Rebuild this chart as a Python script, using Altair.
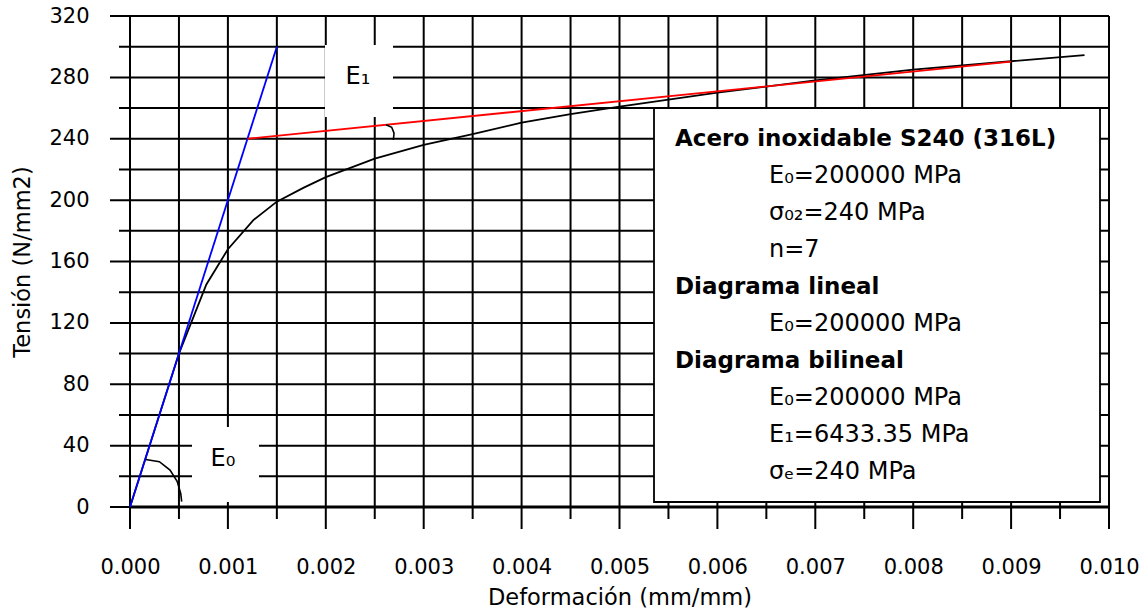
import altair as alt
import pandas as pd

# --- Stress-strain data: stainless steel S240 (316L) ---
# Non-linear (Ramberg-Osgood type) curve
strain_curve = [0.0, 0.00025, 0.0005, 0.00078, 0.001, 0.00126, 0.0015, 0.00177,
                0.002, 0.0025, 0.003, 0.0035, 0.004, 0.0045, 0.005, 0.006,
                0.007, 0.008, 0.009, 0.00975]
stress_curve = [0, 50, 100, 145, 168, 187, 199, 208, 215, 227, 236, 243,
                250.5, 256, 261, 270, 278, 285, 290.5, 294.5]

# Linear diagram (E0)
strain_linear = [0.0, 0.0015]
stress_linear = [0, 300]

# Bilinear diagram, hardening branch (E1)
strain_bilinear = [0.0012, 0.009]
stress_bilinear = [240, 290.2]

# Small angle arcs marking E0 and E1
arc0_strain = [0.00016, 0.0003, 0.000409, 0.000483, 0.000518, 0.000528]
arc0_stress = [31.0, 29.5, 24.1, 16.5, 8.9, 3.5]
arc1_strain = [0.002615, 0.002673, 0.002697, 0.00269]
arc1_stress = [249.1, 247.5, 243.6, 239.2]

# Axis ticks (labelled) and intermediate grid lines
x_major = [0.000, 0.001, 0.002, 0.003, 0.004, 0.005, 0.006, 0.007, 0.008, 0.009, 0.010]
x_minor = [0.0005, 0.0015, 0.0025, 0.0035, 0.0045, 0.0055, 0.0065, 0.0075, 0.0085, 0.0095]
y_major = [0, 40, 80, 120, 160, 200, 240, 280, 320]
y_minor = [20, 60, 100, 140, 180, 220, 260, 300]

legend_sections = [
    ("Acero inoxidable S240 (316L)", ["E₀=200000 MPa", "σ₀₂=240 MPa", "n=7"]),
    ("Diagrama lineal", ["E₀=200000 MPa"]),
    ("Diagrama bilineal", ["E₀=200000 MPa", "E₁=6433.35 MPa", "σₑ=240 MPa"]),
]

W, H = 979, 491
FONT = "DejaVu Sans"

xs = alt.Scale(domain=[0, 0.010], nice=False, zero=False)
ys = alt.Scale(domain=[0, 320], nice=False, zero=False)

xaxis = alt.Axis(values=x_major, format=".3f", title="Deformación (mm/mm)",
                 ticks=False, tickSize=0, domain=False, grid=False,
                 labelFont=FONT, labelFontSize=21, labelColor="black",
                 labelPadding=49, labelFlush=False, labelOverlap=False,
                 titleFont=FONT, titleFontSize=22.5, titleFontWeight="normal",
                 titleColor="black", titlePadding=9.5)
yaxis = alt.Axis(values=y_major, format="d", title="Tensión (N/mm2)",
                 ticks=False, tickSize=0, domain=False, grid=False,
                 labelFont=FONT, labelFontSize=21, labelColor="black",
                 labelPadding=41, labelFlush=False, labelOverlap=False,
                 titleFont=FONT, titleFontSize=22.5, titleFontWeight="normal",
                 titleColor="black", titlePadding=14)

X = alt.X("x:Q", scale=xs, axis=xaxis)
Y = alt.Y("y:Q", scale=ys, axis=yaxis)

GRID_W = 2.0

# Grid: vertical lines extend below the frame as tick marks
v_major = alt.Chart(pd.DataFrame({"x": x_major})).mark_rule(
    color="black", strokeWidth=GRID_W).encode(x=X, y=alt.value(0), y2=alt.value(H + 22))
v_minor = alt.Chart(pd.DataFrame({"x": x_minor})).mark_rule(
    color="black", strokeWidth=GRID_W).encode(x=X, y=alt.value(0), y2=alt.value(H + 12))
# Horizontal lines extend left of the frame as tick marks
h_major = alt.Chart(pd.DataFrame({"y": y_major})).mark_rule(
    color="black", strokeWidth=GRID_W).encode(y=Y, x=alt.value(-20), x2=alt.value(W))
h_minor = alt.Chart(pd.DataFrame({"y": y_minor})).mark_rule(
    color="black", strokeWidth=GRID_W).encode(y=Y, x=alt.value(-11), x2=alt.value(W))
# Heavier base line along zero stress
base_line = alt.Chart(pd.DataFrame({"y": [0]})).mark_rule(
    color="black", strokeWidth=3).encode(y=Y, x=alt.value(0), x2=alt.value(W))

one = alt.Data(values=[{}])

# White label boxes over the grid
box_e1 = alt.Chart(one).mark_rect(fill="white").encode(
    x=alt.value(195), x2=alt.value(263), y=alt.value(29), y2=alt.value(101))
box_e0 = alt.Chart(one).mark_rect(fill="white").encode(
    x=alt.value(62), x2=alt.value(129), y=alt.value(411), y2=alt.value(486))
legend_box = alt.Chart(one).mark_rect(fill="white", stroke="black", strokeWidth=1.8).encode(
    x=alt.value(524), x2=alt.value(970), y=alt.value(92), y2=alt.value(486))


def line_layer(xv, yv, color, width=1.8):
    df = pd.DataFrame({"x": xv, "y": yv, "i": list(range(len(xv)))})
    return alt.Chart(df).mark_line(color=color, strokeWidth=width).encode(
        x=X, y=Y, order="i:Q")


curve = line_layer(strain_curve, stress_curve, "black")
linear = line_layer(strain_linear, stress_linear, "#0000ff")
bilinear = line_layer(strain_bilinear, stress_bilinear, "#ff0000")
arc0 = line_layer(arc0_strain, arc0_stress, "black", 1.6)
arc1 = line_layer(arc1_strain, arc1_stress, "black", 1.6)

lbl_e1 = alt.Chart(one).mark_text(text="E₁", font=FONT, fontSize=24, color="black",
                                  align="center", baseline="alphabetic").encode(
    x=alt.value(228), y=alt.value(68))
lbl_e0 = alt.Chart(one).mark_text(text="E₀", font=FONT, fontSize=24, color="black",
                                  align="center", baseline="alphabetic").encode(
    x=alt.value(93), y=alt.value(450))

# Legend text, one layer per line
legend_layers = []
row = 0
for header, entries in legend_sections:
    legend_layers.append(
        alt.Chart(one).mark_text(text=header, font=FONT, fontSize=23, fontWeight="bold",
                                 color="black", align="left", baseline="alphabetic").encode(
            x=alt.value(545), y=alt.value(130 + 37 * row)))
    row += 1
    for entry in entries:
        legend_layers.append(
            alt.Chart(one).mark_text(text=entry, font=FONT, fontSize=24,
                                     color="black", align="left", baseline="alphabetic").encode(
                x=alt.value(639), y=alt.value(130 + 37 * row)))
        row += 1

chart = alt.layer(
    v_minor, v_major, h_minor, h_major, base_line,
    box_e1, box_e0, legend_box,
    curve, linear, bilinear, arc0, arc1,
    lbl_e1, lbl_e0, *legend_layers,
).properties(
    width=W, height=H,
    padding={"left": 130, "top": 16, "right": 34, "bottom": 103},
    autosize=alt.AutoSizeParams(type="none"),
    background="white",
).configure_view(stroke=None)

chart.save("out.html", embed_options={"renderer": "svg", "actions": False})
